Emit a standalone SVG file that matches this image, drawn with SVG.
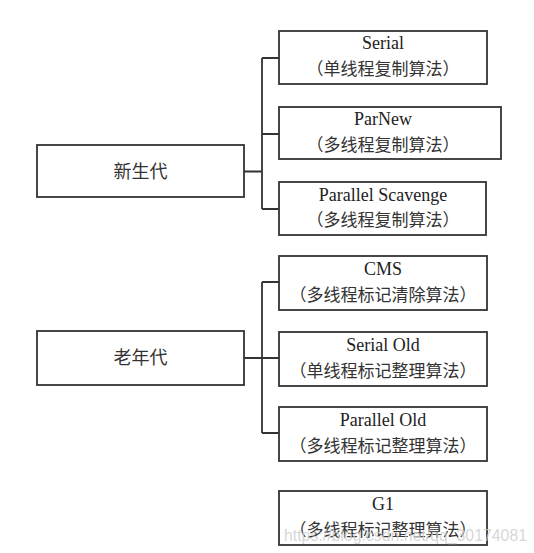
<svg xmlns="http://www.w3.org/2000/svg" width="534" height="553" viewBox="0 0 534 553">
<style>
.box{fill:#fff;stroke:#333;stroke-width:1.8}
.en{font-family:"Liberation Serif","Times New Roman",serif;font-size:18px;fill:#222;text-anchor:middle}
.zh{font-family:"Noto Sans CJK SC","Noto Sans CJK JP",sans-serif;font-size:17px;fill:#333;text-anchor:middle}
.root{font-family:"Noto Sans CJK SC","Noto Sans CJK JP",sans-serif;font-size:18px;fill:#333;text-anchor:middle}
.conn{fill:none;stroke:#333;stroke-width:1.8}
.wm{font-family:"Liberation Sans",Arial,sans-serif;font-size:16px;fill:#ccc;fill-opacity:0.8}
</style>
<rect width="534" height="553" fill="#fff"/>
<g id="connectors">
<path class="conn" d="M244 171.5H262M262 58V209M262 58H279M262 134H279M262 209H279"/>
<path class="conn" d="M244 358H262M262 282V433M262 282H279M262 358H279M262 433H279"/>
</g>
<g id="young">
<rect class="box" x="37" y="145" width="207" height="52"/>
<text class="root" x="140.5" y="177.5">新生代</text>
</g>
<g id="serial">
<rect class="box" x="279" y="31" width="208" height="53"/>
<text class="en" x="383" y="49">Serial</text>
<text class="zh" x="383" y="75">（单线程复制算法）</text>
</g>
<g id="parnew">
<rect class="box" x="279" y="107" width="222" height="52"/>
<text class="en" x="383" y="125">ParNew</text>
<text class="zh" x="383" y="151">（多线程复制算法）</text>
</g>
<g id="parallel-scavenge">
<rect class="box" x="279" y="182" width="207" height="53"/>
<text class="en" x="383" y="201">Parallel Scavenge</text>
<text class="zh" x="383" y="226">（多线程复制算法）</text>
</g>
<g id="old">
<rect class="box" x="37" y="331" width="207" height="54"/>
<text class="root" x="140.5" y="364">老年代</text>
</g>
<g id="cms">
<rect class="box" x="279" y="256" width="208" height="54"/>
<text class="en" x="383" y="275">CMS</text>
<text class="zh" x="383" y="301">（多线程标记清除算法）</text>
</g>
<g id="serial-old">
<rect class="box" x="279" y="332" width="208" height="54"/>
<text class="en" x="383" y="351">Serial Old</text>
<text class="zh" x="383" y="377">（单线程标记整理算法）</text>
</g>
<g id="parallel-old">
<rect class="box" x="279" y="407" width="208" height="54"/>
<text class="en" x="383" y="426">Parallel Old</text>
<text class="zh" x="383" y="452">（多线程标记整理算法）</text>
</g>
<g id="g1">
<rect class="box" x="279" y="491" width="208" height="54"/>
<text class="en" x="383" y="510">G1</text>
<text class="zh" x="383" y="536">（多线程标记整理算法）</text>
</g>
<text class="wm" x="284" y="541" textLength="243" lengthAdjust="spacingAndGlyphs">https://blog.csdn.net/qq_30174081</text>
</svg>
